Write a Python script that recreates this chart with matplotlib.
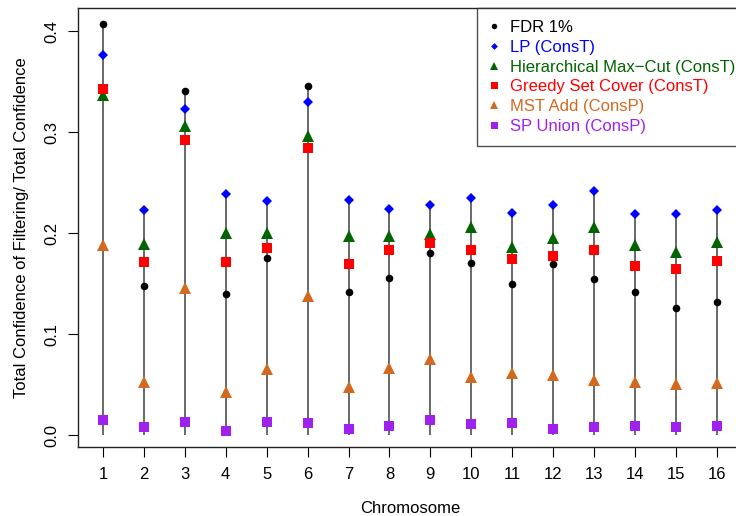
import numpy as np
import matplotlib
matplotlib.use('Agg')
from matplotlib import pyplot as plt

plt.rcParams['font.family'] = ['Liberation Sans', 'DejaVu Sans']

chromosomes = list(range(1, 17))

# fraction of total confidence kept
fdr = [0.407, 0.148, 0.341, 0.140, 0.175, 0.346, 0.142, 0.156,
       0.180, 0.170, 0.150, 0.169, 0.155, 0.142, 0.126, 0.132]
lp = [0.376, 0.223, 0.323, 0.239, 0.232, 0.330, 0.233, 0.224,
      0.228, 0.235, 0.220, 0.228, 0.242, 0.219, 0.219, 0.223]
hmc = [0.337, 0.189, 0.306, 0.200, 0.200, 0.296, 0.197, 0.197,
       0.199, 0.206, 0.186, 0.195, 0.206, 0.188, 0.181, 0.191]
gsc = [0.343, 0.171, 0.292, 0.171, 0.185, 0.284, 0.169, 0.183,
       0.190, 0.183, 0.174, 0.177, 0.183, 0.167, 0.164, 0.172]
mst = [0.188, 0.053, 0.146, 0.043, 0.065, 0.138, 0.048, 0.066,
       0.075, 0.058, 0.061, 0.060, 0.055, 0.053, 0.051, 0.052]
sp = [0.015, 0.008, 0.013, 0.004, 0.013, 0.012, 0.006, 0.009,
      0.015, 0.011, 0.012, 0.006, 0.008, 0.009, 0.008, 0.009]

series = [
    ('FDR 1%', fdr, 'o', 'black', 5.5),
    ('LP (ConsT)', lp, 'D', '#0000FF', 4.8),
    ('Hierarchical Max\u2212Cut (ConsT)', hmc, '^', '#006400', 8),
    ('Greedy Set Cover (ConsT)', gsc, 's', '#FF0000', 7),
    ('MST Add (ConsP)', mst, '^', '#D2691E', 8),
    ('SP Union (ConsP)', sp, 's', '#A020F0', 7),
]

fig = plt.figure(figsize=(7.36, 5.16), dpi=100)
ax = fig.add_axes([0.1065, 0.1331, 0.901, 0.8518])

tops = np.max(np.array([s[1] for s in series]), axis=0)
ax.vlines(chromosomes, 0, tops, color='0.25', lw=1.1, zorder=1)

handles = []
for name, vals, mk, col, ms in series:
    ax.plot(chromosomes, vals, linestyle='none', marker=mk, color=col,
            markersize=ms, markeredgewidth=0, zorder=3)
    h, = ax.plot([], [], linestyle='none', marker=mk, color=col,
                 markersize=ms * 0.72, markeredgewidth=0, label=name)
    handles.append(h)

ax.set_xlim(0.4, 16.6)
ax.set_ylim(-0.0121, 0.4231)
ax.set_xticks(chromosomes)
ax.set_yticks([0.0, 0.1, 0.2, 0.3, 0.4])
ax.set_yticklabels(['0.0', '0.1', '0.2', '0.3', '0.4'], rotation=90, va='center')
ax.tick_params(direction='out', length=7, width=0.8, labelsize=12, pad=7)

for sp_ in ax.spines.values():
    sp_.set_linewidth(1.0)
    sp_.set_color('#222222')

ax.set_xlabel('Chromosome', fontsize=12, labelpad=14)
ax.set_ylabel('Total Confidence of Filtering/ Total Confidence', fontsize=12, labelpad=10.5)

# box runs off the right edge like the original
leg = ax.legend(handles=handles, loc='upper right', bbox_to_anchor=(1.009, 1.0),
                fontsize=12, frameon=True, fancybox=False, borderaxespad=0,
                handlelength=0.5, handletextpad=0.7, borderpad=0.75,
                labelspacing=0.28)
leg.get_frame().set_edgecolor('#222222')
leg.get_frame().set_linewidth(1.0)
for txt, s in zip(leg.get_texts(), series):
    txt.set_color(s[3])

fig.savefig('out.png', dpi=100)
